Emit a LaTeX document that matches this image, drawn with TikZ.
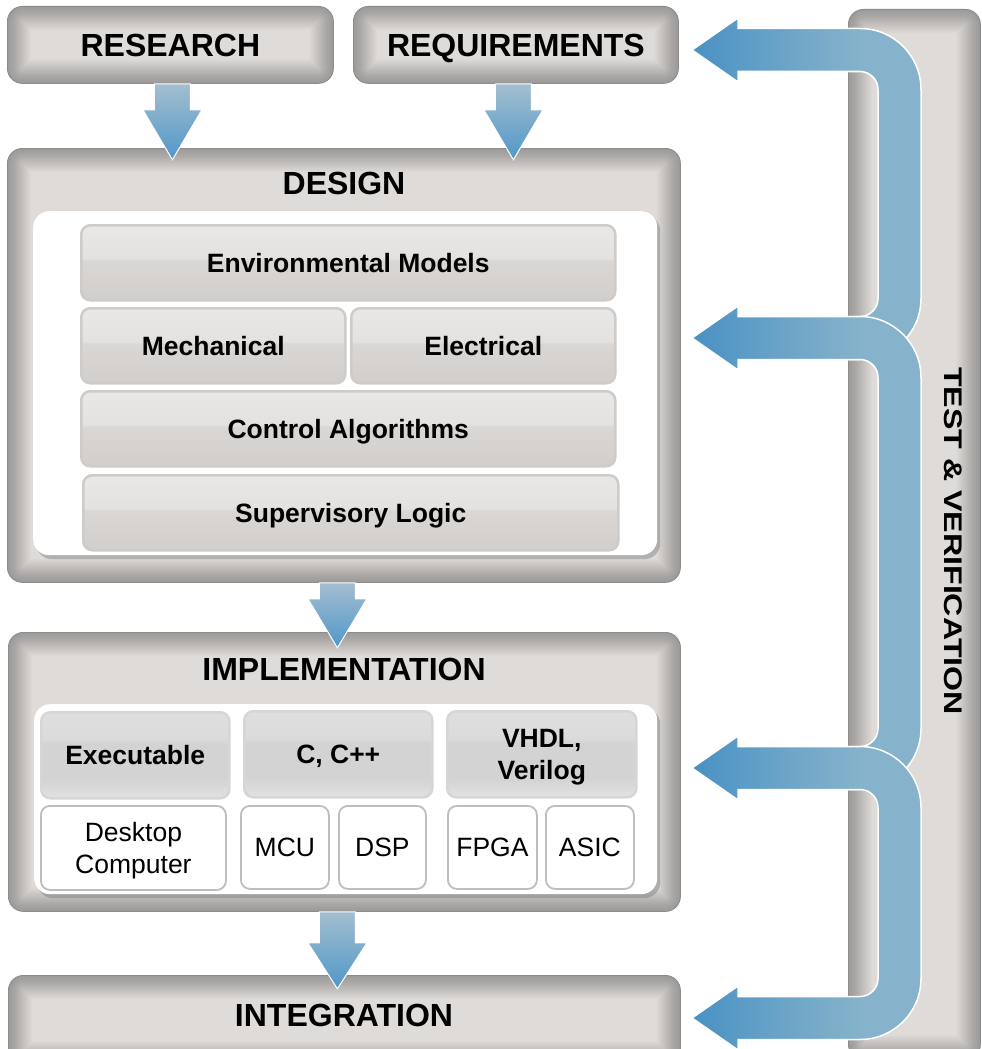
\documentclass[tikz,border=0pt]{standalone}
\usepackage{fontspec}
\setmainfont{Liberation Sans}
\usetikzlibrary{calc,shadows}
\definecolor{boxfill}{HTML}{DEDBD8}
\definecolor{boxline}{HTML}{8E8B89}
\definecolor{uD}{HTML}{4C93C5}
\definecolor{uM}{HTML}{6AA3C7}
\definecolor{uL}{HTML}{86B3CB}
\definecolor{dTop}{HTML}{A4BED0}
\definecolor{dBot}{HTML}{5097C8}
\definecolor{tT}{HTML}{E9E8E6}
\definecolor{tT2}{HTML}{E3E2E0}
\definecolor{tB2}{HTML}{D9D6D3}
\definecolor{tB}{HTML}{D1CECB}
\definecolor{tileline}{HTML}{CFCBC8}
\definecolor{iT}{HTML}{DFDFDF}
\definecolor{iM2}{HTML}{DBDBDB}
\definecolor{iM}{HTML}{D3D3D3}
\definecolor{iB}{HTML}{E2E2E2}
\definecolor{iline}{HTML}{D6D6D6}
\definecolor{wline}{HTML}{BEBEBE}
\pgfdeclarehorizontalshading{ushade}{100bp}{color(0bp)=(uD); color(27bp)=(uD); color(44bp)=(uM); color(62bp)=(uL); color(100bp)=(uL)}
\pgfdeclareverticalshading{tileshade}{100bp}{color(0bp)=(tB); color(25bp)=(tB); color(51bp)=(tB2); color(53bp)=(tT2); color(75bp)=(tT); color(100bp)=(tT)}
\pgfdeclareverticalshading{itileshade}{100bp}{color(0bp)=(iB); color(25bp)=(iB); color(36bp)=(iM); color(57bp)=(iM); color(59bp)=(iM2); color(75bp)=(iT); color(100bp)=(iT)}
\newcommand{\fatdown}[3]{\path[downarrowstyle] ($(#1)+(-18,0)$) -- ($(#1)+(18,0)$) -- ($(#1)+(18,#2)$) -- ($(#1)+(29.5,#2)$) -- ($(#1)+(0,#3)$) -- ($(#1)+(-29.5,#2)$) -- ($(#1)+(-18,#2)$) -- cycle;}
\newcommand{\uarrow}[4]{%
 \path[uarrowstyle]
 (692,#1) -- (738,#1-32) -- (738,#1-21.5) -- (860,#1-21.5)
 arc[start angle=90,end angle=0,radius=61pt] -- (921,#2-39.5)
 arc[start angle=0,end angle=-90,radius=61pt] -- (#4,#2+21.5)
 #3 -- (#4,#2-21.5) -- (860,#2-21.5)
 arc[start angle=-90,end angle=0,radius=18pt] -- (878,#1+39.5)
 arc[start angle=0,end angle=90,radius=18pt] -- (738,#1+21.5) -- (738,#1+32) -- cycle;}
\tikzset{
 graybox/.style={rectangle, rounded corners=15pt, draw=boxline, line width=0.8pt, fill=boxfill, inner sep=0pt, anchor=north west,
   path picture={\foreach \w in {2,4,...,48}{\draw[line width=\w pt, black, opacity=0.011, rounded corners=15pt] (path picture bounding box.south west) rectangle (path picture bounding box.north east);}}},
 panel/.style={rectangle, rounded corners=16pt, fill=white, inner sep=0pt, anchor=north west,
   drop shadow={shadow xshift=3pt, shadow yshift=-4pt, opacity=0.4, fill=black!55}},
 dtile/.style={rectangle, rounded corners=9pt, draw=tileline, line width=2.5pt, shading=tileshade, inner sep=0pt, anchor=north west, font=\tilefont\bfseries, text height=19pt, text depth=0pt},
 itile/.style={rectangle, rounded corners=9pt, draw=iline, line width=2.5pt, shading=itileshade, inner sep=0pt, anchor=north west, font=\tilefont\bfseries, align=center, text height=19pt, text depth=0pt},
 wtile/.style={rectangle, rounded corners=9pt, draw=wline, line width=1.8pt, fill=white, inner sep=0pt, anchor=north west, font=\tilefont, align=center, text height=19pt, text depth=0pt},
 twolines/.style={text height=51pt, text depth=0pt},
 title/.style={font=\fontsize{32}{38}\selectfont\bfseries, inner sep=0pt, text height=23pt, text depth=0pt},
 downarrowstyle/.style={top color=dTop, bottom color=dBot, draw=white, line width=1pt},
 uarrowstyle/.style={shading=ushade, draw=white, line width=1.5pt},
}
\newcommand{\tilefont}{\fontsize{26.5}{32}\selectfont}
\begin{document}
\begin{tikzpicture}[x=1pt,y=-1pt]
\useasboundingbox (0,0) rectangle (982,1049);
\fill[white] (0,0) rectangle (982,1049);
% test & verification bar
\node[graybox, minimum width=132pt, minimum height=1050pt] (test) at (848,9) {};
% top boxes
\node[graybox, minimum width=326pt, minimum height=77pt, title] (research) at (7,6) {RESEARCH};
\node[graybox, minimum width=325pt, minimum height=77pt, title] (requirements) at (353,6) {REQUIREMENTS};
% design
\node[graybox, minimum width=673pt, minimum height=434pt] (design) at (7,148) {};
\node[title] (designtitle) at (344,183) {DESIGN};
\node[panel, minimum width=624pt, minimum height=344pt] (designpanel) at (33,211) {};
\node[dtile, minimum width=534pt, minimum height=75pt] (env) at (80,224) {Environmental Models};
\node[dtile, minimum width=264pt, minimum height=75pt] (mech) at (80,307) {Mechanical};
\node[dtile, minimum width=264pt, minimum height=75pt] (elec) at (350,307) {Electrical};
\node[dtile, minimum width=534pt, minimum height=75pt] (ctrl) at (80,390) {Control Algorithms};
\node[dtile, minimum width=535pt, minimum height=75pt] (sup) at (82,474) {Supervisory Logic};
% implementation
\node[graybox, minimum width=672pt, minimum height=279pt] (impl) at (8,632) {};
\node[title] (impltitle) at (344,669) {IMPLEMENTATION};
\node[panel, minimum width=623pt, minimum height=190pt] (implpanel) at (34,704) {};
\node[itile, minimum width=188pt, minimum height=86pt] (exe) at (40,711) {Executable};
\node[itile, minimum width=188pt, minimum height=86pt] (cpp) at (243,710) {C, C++};
\node[itile, twolines, minimum width=189pt, minimum height=86pt] (vhdl) at (446,710) {VHDL,\\Verilog};
\node[wtile, twolines, minimum width=185pt, minimum height=84pt] (desk) at (40,805) {Desktop\\Computer};
\node[wtile, minimum width=88pt, minimum height=83pt] (mcu) at (240,805) {MCU};
\node[wtile, minimum width=87pt, minimum height=83pt] (dsp) at (338,805) {DSP};
\node[wtile, minimum width=89pt, minimum height=83pt] (fpga) at (447,805) {FPGA};
\node[wtile, minimum width=88pt, minimum height=83pt] (asic) at (545,805) {ASIC};
% integration
\node[graybox, minimum width=672pt, minimum height=90pt] (integ) at (8,975) {};
\node[title] (integtitle) at (344,1015) {INTEGRATION};
% down arrows
\coordinate (a1) at ($(research.south)+(2,0)$);
\coordinate (a2) at ($(requirements.south)+(-2.5,0)$);
\coordinate (a3) at ($(design.south)+(-6.5,0)$);
\coordinate (a4) at ($(impl.south)+(-7,0)$);
\fatdown{a1}{26}{76}
\fatdown{a2}{26}{76}
\fatdown{a3}{16}{65}
\fatdown{a4}{31}{77}
% feedback arrows
\uarrow{50}{338}{}{770}
\uarrow{338}{768}{}{770}
\uarrow{768}{1018}{-- (738,1018+21.5) -- (738,1018+32) -- (692,1018) -- (738,1018-32)}{738}
\node[font=\fontsize{25.5}{30}\selectfont\bfseries, rotate=-90, xscale=1.26, inner sep=0pt, text height=18pt, text depth=0pt] (testtitle) at (953.5,541) {TEST \& VERIFICATION};
\end{tikzpicture}
\end{document}
